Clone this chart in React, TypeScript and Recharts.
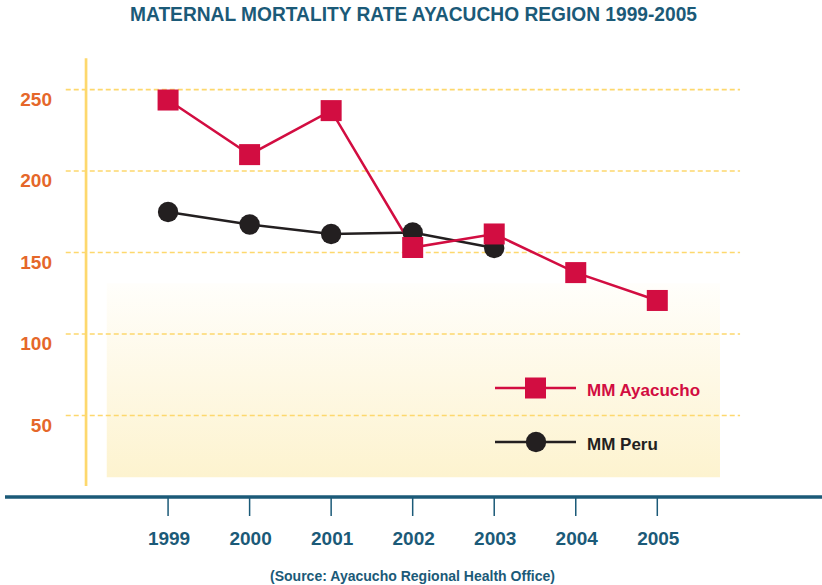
import React from "react";
import {
  LineChart,
  Line,
  XAxis,
  YAxis,
  ReferenceLine,
  ReferenceArea,
  Legend,
} from "recharts";

const years = [1999, 2000, 2001, 2002, 2003, 2004, 2005];
const ayacucho = [243.6, 210.1, 237.1, 153.1, 161.4, 137.7, 120.6];
const peru: (number | null)[] = [174.9, 167.2, 161.4, 162.3, 152.8, null, null];
const yTicks = [50, 100, 150, 200, 250];
const seriesNames = ["MM Ayacucho", "MM Peru"];
const titleText = "MATERNAL MORTALITY RATE AYACUCHO REGION 1999-2005";
const sourceText = "(Source: Ayacucho Regional Health Office)";

const data = years.map((y, i) => ({
  year: y,
  ayacucho: ayacucho[i],
  peru: peru[i],
}));

const CRIMSON = "#d20d41";
const BLACK = "#231f20";
const TEAL = "#1b5a78";
const ORANGE = "#e5672a";
const YELLOW = "#fdd86d";
const FONT = "'Liberation Sans', Arial, sans-serif";

const SquareDot = (props: any) => {
  const { cx, cy, index } = props;
  if (cx == null || cy == null) return <g key={`s${index}`} />;
  return (
    <rect
      key={`s${index}`}
      x={cx - 10.5}
      y={cy - 10.5}
      width={21}
      height={21}
      fill={CRIMSON}
    />
  );
};

const CircleDot = (props: any) => {
  const { cx, cy, index, value } = props;
  if (cx == null || cy == null || value == null) return <g key={`c${index}`} />;
  return <circle key={`c${index}`} cx={cx} cy={cy} r={10.2} fill={BLACK} />;
};

const XTick = (props: any) => {
  const { x, y, payload } = props;
  return (
    <text
      x={x + 1}
      y={y + 27}
      textAnchor="middle"
      fill={TEAL}
      fontFamily={FONT}
      fontWeight="bold"
      fontSize={19}
    >
      {payload.value}
    </text>
  );
};

const YTick = (props: any) => {
  const { y, payload } = props;
  return (
    <text
      x={52}
      y={y + 16}
      textAnchor="end"
      fill={ORANGE}
      fontFamily={FONT}
      fontWeight="bold"
      fontSize={19}
    >
      {payload.value}
    </text>
  );
};

const LegendContent = (props: any) => {
  const items = props.payload || [];
  return (
    <svg width={230} height={90} style={{ display: "block" }}>
      {items.map((it: any, i: number) => {
        const cy = 18 + i * 54;
        const color = it.color;
        return (
          <g key={i}>
            <line x1={0} x2={81} y1={cy} y2={cy} stroke={color} strokeWidth={2.5} />
            {i === 0 ? (
              <rect x={30} y={cy - 10.5} width={21} height={21} fill={color} />
            ) : (
              <circle cx={41} cy={cy} r={10.2} fill={color} />
            )}
            <text
              x={92}
              y={cy + 7.5}
              fill={color}
              fontFamily={FONT}
              fontWeight="bold"
              fontSize={17}
            >
              {it.value}
            </text>
          </g>
        );
      })}
    </svg>
  );
};

export default function App() {
  return (
    <div
      style={{
        position: "absolute",
        left: 0,
        top: 0,
        width: 822,
        height: 585,
        background: "#ffffff",
      }}
    >
      <LineChart
        width={822}
        height={585}
        data={data}
        margin={{ top: 57, right: 0, bottom: 0, left: 4 }}
      >
        <defs>
          <linearGradient id="bgGrad" x1="0" y1="0" x2="0" y2="1">
            <stop offset="0%" stopColor="#fffefb" />
            <stop offset="100%" stopColor="#fdf3cf" />
          </linearGradient>
        </defs>
        <XAxis
          type="number"
          dataKey="year"
          domain={[1997, 2007.02]}
          ticks={years}
          allowDataOverflow
          height={88}
          axisLine={{ stroke: TEAL, strokeWidth: 3.3 }}
          tickLine={{ stroke: TEAL, strokeWidth: 1.5 }}
          tickSize={19}
          tick={<XTick />}
          interval={0}
        />
        <YAxis
          type="number"
          domain={[0, 270]}
          ticks={yTicks}
          width={1}
          axisLine={false}
          tickLine={false}
          tick={<YTick />}
          interval={0}
          allowDataOverflow
        />
        <ReferenceArea
          x1={1998.248}
          x2={2005.769}
          y1={12.1}
          y2={131.2}
          fill="url(#bgGrad)"
          fillOpacity={1}
          stroke="none"
        />
        {yTicks.map((v) => (
          <ReferenceLine
            key={`g${v}`}
            segment={[
              { x: 1997.745, y: v },
              { x: 2006.015, y: v },
            ]}
            stroke={YELLOW}
            strokeWidth={1.6}
            strokeDasharray="5 3"
          />
        ))}
        <ReferenceLine
          segment={[
            { x: 1997.994, y: 6.8 },
            { x: 1997.994, y: 269.2 },
          ]}
          stroke={YELLOW}
          strokeWidth={2.7}
        />
        <Legend
          content={<LegendContent />}
          layout="horizontal"
          verticalAlign="middle"
          align="center"
          wrapperStyle={{ left: 495, top: 370, width: 230 }}
        />
        <Line
          dataKey="peru"
          name={seriesNames[1]}
          stroke={BLACK}
          strokeWidth={2.5}
          dot={<CircleDot />}
          activeDot={false}
          isAnimationActive={false}
          connectNulls={false}
        />
        <Line
          dataKey="ayacucho"
          name={seriesNames[0]}
          stroke={CRIMSON}
          strokeWidth={2.5}
          dot={<SquareDot />}
          activeDot={false}
          isAnimationActive={false}
        />
      </LineChart>
      <svg
        width={822}
        height={585}
        style={{ position: "absolute", left: 0, top: 0, pointerEvents: "none" }}
      >
        <text
          x={130}
          y={21}
          textLength={567}
          lengthAdjust="spacingAndGlyphs"
          fill={TEAL}
          fontFamily={FONT}
          fontWeight="bold"
          fontSize={20}
        >
          {titleText}
        </text>
        <text
          x={270}
          y={581}
          textLength={285}
          lengthAdjust="spacingAndGlyphs"
          fill={TEAL}
          fontFamily={FONT}
          fontWeight="bold"
          fontSize={14}
        >
          {sourceText}
        </text>
      </svg>
    </div>
  );
}
